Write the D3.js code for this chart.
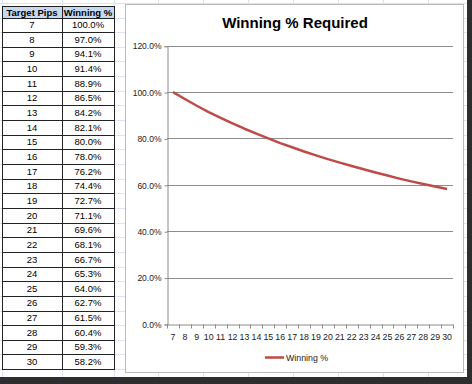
<!DOCTYPE html>
<html>
<head>
<meta charset="utf-8">
<script src="https://cdn.jsdelivr.net/npm/d3@7"></script>
<style>
  body { margin: 0; background: #fff; }
  svg { display: block; font-family: "Liberation Sans", Arial, sans-serif; }
</style>
</head>
<body>
<script>
// data
const pips = [7, 8, 9, 10, 11, 12, 13, 14, 15, 16, 17, 18, 19, 20, 21, 22, 23, 24, 25, 26, 27, 28, 29, 30];
const winning = [1.000, 0.970, 0.941, 0.914, 0.889, 0.865, 0.842, 0.821, 0.800, 0.780, 0.762, 0.744,
                 0.727, 0.711, 0.696, 0.681, 0.667, 0.653, 0.640, 0.627, 0.615, 0.604, 0.593, 0.582];
const yTicks = [0, 0.2, 0.4, 0.6, 0.8, 1.0, 1.2];
const headers = ["Target Pips", "Winning %"];
const seriesName = "Winning %";
const title = "Winning % Required";

const W = 472, H = 384;
const lineColor = "#be4b48";
const pct = d3.format(".1%");

const svg = d3.select("body").append("svg")
    .attr("width", W)
    .attr("height", H);

// spreadsheet grid behind everything
const rowTop = 17.5, rowH = 14.65;
const sheetRows = d3.range(-1, 26).map(i => rowTop + i * rowH);
const sheetCols = [2, 62, 114, 158, 203, 248, 293, 338, 383, 428];
svg.append("g")
    .attr("stroke", "#dde3ee")
    .call(g => g.selectAll("line.h").data(sheetRows).join("line")
        .attr("x1", 0).attr("x2", W)
        .attr("y1", d => Math.round(d) + 0.5).attr("y2", d => Math.round(d) + 0.5))
    .call(g => g.selectAll("line.v").data(sheetCols).join("line")
        .attr("x1", d => d + 0.5).attr("x2", d => d + 0.5)
        .attr("y1", 0).attr("y2", H));

// the table
const rowY = d3.scaleBand()
    .domain(pips)
    .range([rowTop, rowTop + pips.length * rowH]);
// uneven column widths
const colEdges = [2, 62, 114];

const table = svg.append("g");
table.append("rect")
    .attr("x", colEdges[0] + 0.5).attr("y", 6.5)
    .attr("width", colEdges[2] - colEdges[0]).attr("height", rowTop - 6)
    .attr("fill", "#c6d9f1");
table.selectAll("text.hd")
    .data(headers)
    .join("text")
        .attr("x", (d, i) => (colEdges[i] + colEdges[i + 1]) / 2)
        .attr("y", 12.5)
        .attr("dy", "0.35em")
        .attr("text-anchor", "middle")
        .attr("font-size", 9.5)
        .attr("font-weight", "bold")
        .text(d => d);

const rows = table.selectAll("g.row")
    .data(pips.map((p, i) => ({ p, w: winning[i] })))
    .join("g")
        .attr("transform", d => `translate(0,${rowY(d.p)})`);
rows.append("text")
    .attr("x", (colEdges[0] + colEdges[1]) / 2)
    .attr("y", rowY.bandwidth() / 2)
    .attr("dy", "0.35em")
    .attr("text-anchor", "middle")
    .attr("font-size", 9.5)
    .text(d => d.p);
rows.append("text")
    .attr("x", (colEdges[1] + colEdges[2]) / 2)
    .attr("y", rowY.bandwidth() / 2)
    .attr("dy", "0.35em")
    .attr("text-anchor", "middle")
    .attr("font-size", 9.5)
    .text(d => pct(d.w));

// cell borders
const hLines = [6, ...pips.map(p => rowY(p)), rowY.range()[1]];
table.append("g")
    .attr("stroke", "#222")
    .call(g => g.selectAll("line.h").data(hLines).join("line")
        .attr("x1", colEdges[0]).attr("x2", colEdges[2] + 1)
        .attr("y1", d => Math.round(d) + 0.5).attr("y2", d => Math.round(d) + 0.5))
    .call(g => g.selectAll("line.v").data(colEdges).join("line")
        .attr("x1", d => d + 0.5).attr("x2", d => d + 0.5)
        .attr("y1", 6).attr("y2", Math.round(rowY.range()[1]) + 1));

// chart box
const box = { x: 125, y: 4, w: 338, h: 368 };
svg.append("rect")
    .attr("x", box.x + 0.5).attr("y", box.y + 0.5)
    .attr("width", box.w).attr("height", box.h)
    .attr("fill", "#fff")
    .attr("stroke", "#b9b9b9");

svg.append("text")
    .attr("x", 295)
    .attr("y", 23)
    .attr("dy", "0.35em")
    .attr("text-anchor", "middle")
    .attr("font-size", 15)
    .attr("font-weight", "bold")
    .text(title);

const x = d3.scaleBand()
    .domain(pips)
    .range([167, 453]);
const y = d3.scaleLinear()
    .domain([0, 1.2])
    .range([324, 45.7]);

// gridlines
svg.append("g")
    .attr("stroke", "#8c8c8c")
    .selectAll("line")
    .data(yTicks.slice(1))
    .join("line")
        .attr("x1", x.range()[0]).attr("x2", x.range()[1])
        .attr("y1", d => Math.round(y(d)) + 0.5).attr("y2", d => Math.round(y(d)) + 0.5);

// y axis
svg.append("g")
    .attr("transform", `translate(${x.range()[0] + 0.5},0.5)`)
    .call(d3.axisLeft(y).tickValues(yTicks).tickFormat(pct).tickSize(3).tickPadding(3))
    .call(g => g.selectAll("line, path").attr("stroke", "#8c8c8c"))
    .call(g => g.selectAll("text").attr("font-size", 8.5).attr("fill", "#222").attr("font-family", null));

// x axis: labels centered in bands, ticks on band edges
svg.append("g")
    .attr("transform", `translate(0,${Math.round(y(0)) + 0.5})`)
    .call(d3.axisBottom(x).tickSize(0).tickPadding(9).tickSizeOuter(0))
    .call(g => g.select(".domain").attr("stroke", "#8c8c8c"))
    .call(g => g.selectAll("text").attr("font-size", 8.8).attr("fill", "#222").attr("font-family", null))
    .call(g => g.append("g")
        .attr("stroke", "#8c8c8c")
        .selectAll("line")
        .data([...pips.map(p => x(p)), x.range()[1]])
        .join("line")
            .attr("x1", d => Math.round(d) + 0.5).attr("x2", d => Math.round(d) + 0.5)
            .attr("y1", 0).attr("y2", 4));

// the series
const line = d3.line()
    .x((d, i) => x(pips[i]) + x.bandwidth() / 2)
    .y(d => y(d));
svg.append("path")
    .datum(winning)
    .attr("fill", "none")
    .attr("stroke", lineColor)
    .attr("stroke-width", 2.5)
    .attr("stroke-linejoin", "round")
    .attr("d", line);

// legend
const legend = svg.append("g").attr("transform", "translate(265,357.5)");
legend.append("line")
    .attr("x1", 0).attr("x2", 19)
    .attr("stroke", lineColor)
    .attr("stroke-width", 2.5);
legend.append("text")
    .attr("x", 21)
    .attr("dy", "0.35em")
    .attr("font-size", 8.8)
    .attr("fill", "#222")
    .text(seriesName);

// drop shadow frame of the screenshot
svg.append("rect").attr("x", 467).attr("y", 0).attr("width", 5).attr("height", H).attr("fill", "#2e2e2e");
svg.append("rect").attr("x", 0).attr("y", 377).attr("width", W).attr("height", 7).attr("fill", "#2e2e2e");
</script>
</body>
</html>
